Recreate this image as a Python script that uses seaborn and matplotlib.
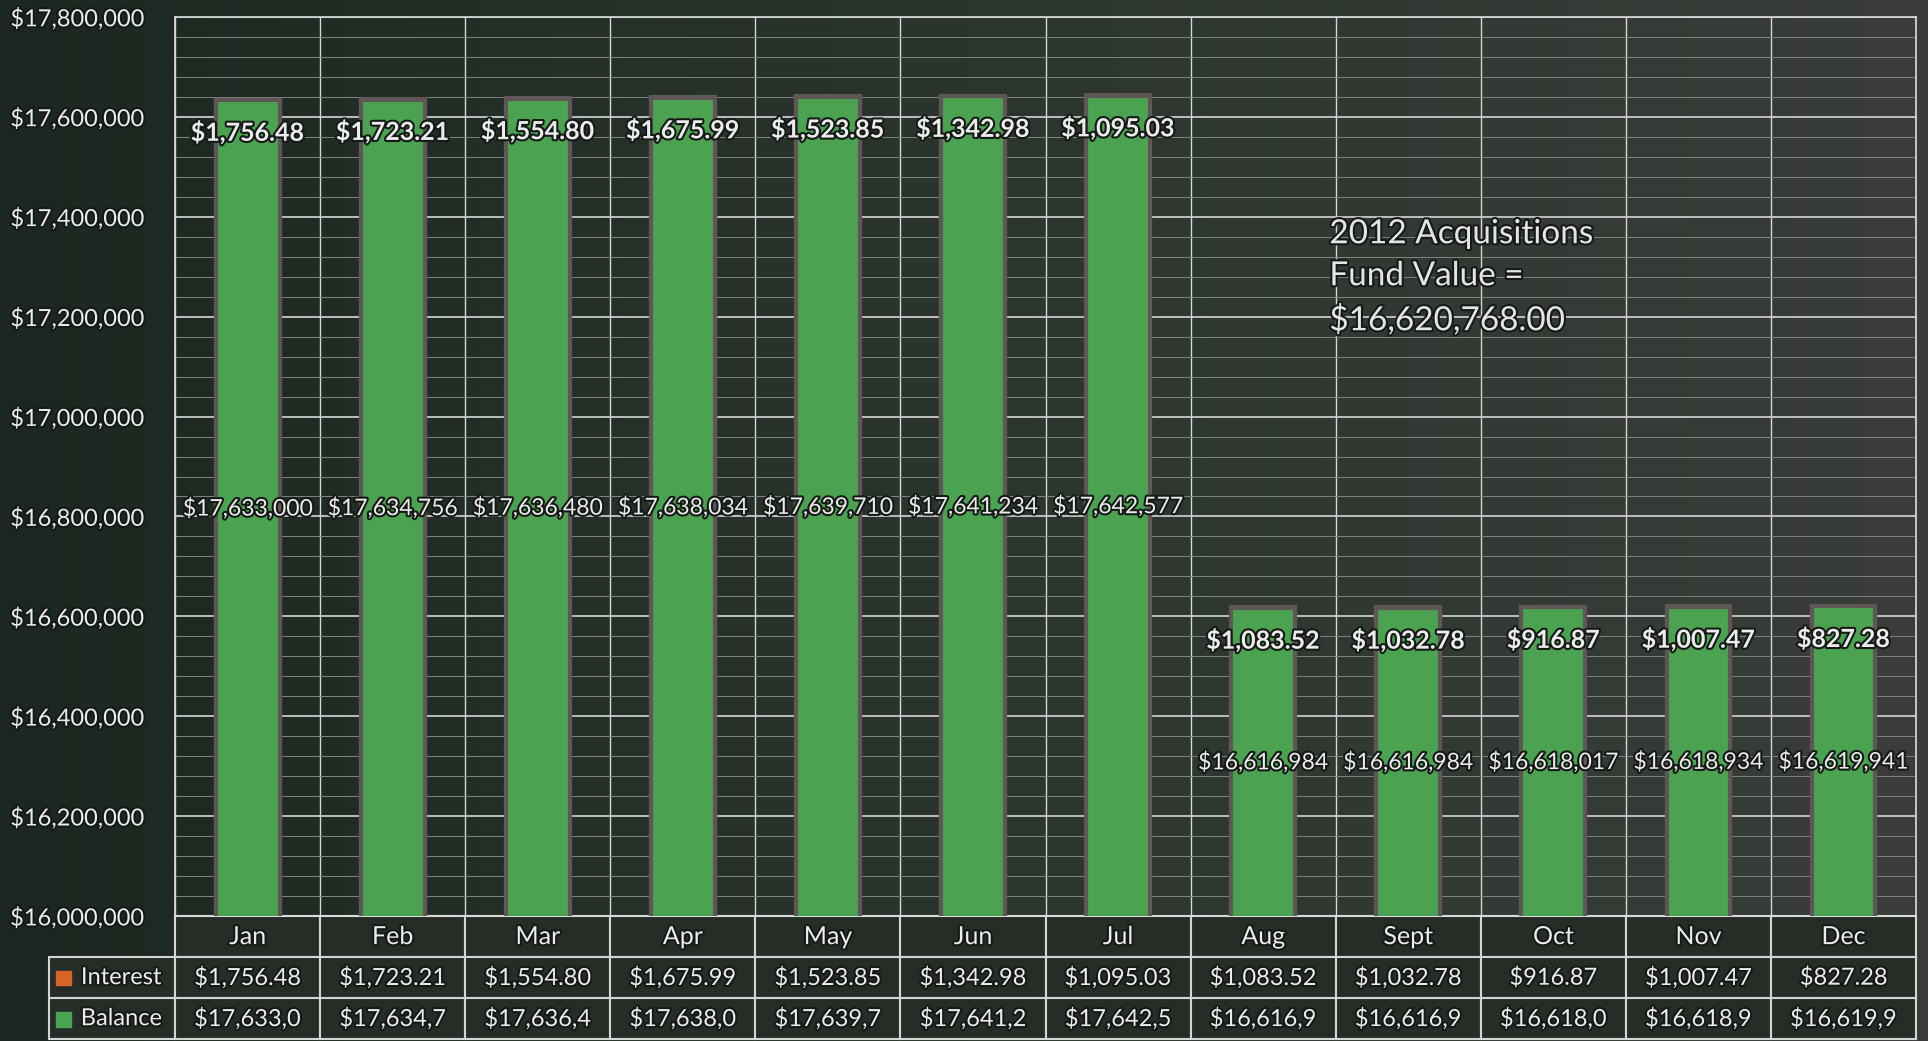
import matplotlib.pyplot as plt
import matplotlib.patheffects as pe
import seaborn as sns
import numpy as np

# chart values
months = ["Jan", "Feb", "Mar", "Apr", "May", "Jun", "Jul", "Aug", "Sept", "Oct", "Nov", "Dec"]
balance = [17633000, 17634756, 17636480, 17638034, 17639710, 17641234, 17642577,
           16616984, 16616984, 16618017, 16618934, 16619941]
interest = [1756.48, 1723.21, 1554.80, 1675.99, 1523.85, 1342.98, 1095.03,
            1083.52, 1032.78, 916.87, 1007.47, 827.28]
fund_note = "2012 Acquisitions\nFund Value =\n$16,620,768.00"

sns.set_theme(style="dark")
plt.rcParams['font.family'] = ['Lato', 'DejaVu Sans']

green = "#4ba351"
orange = "#d8642a"
txt = "#ececec"
halo = [pe.withStroke(linewidth=3, foreground="#161a17")]

fig = plt.figure(figsize=(19.28, 10.41), dpi=100)

# dark scanned-looking background
bg = fig.add_axes([0, 0, 1, 1], zorder=-5)
grad = np.linspace(0, 1, 256).reshape(1, -1)
bg.imshow(grad, aspect='auto', extent=[0, 1, 0, 1],
          cmap=sns.blend_palette(["#1b2720", "#2b352d", "#3a3d3a"], as_cmap=True))
bg.axis('off')

ax = fig.add_axes([0.0908, 0.120, 0.903, 0.8637])
ax.set_facecolor('none')

totals = [b + i for b, i in zip(balance, interest)]

# stacked bars: interest on top of balance
sns.barplot(x=months, y=totals, color=orange, width=0.44, saturation=1,
            edgecolor="#5f5656", linewidth=3, errorbar=None, ax=ax, zorder=3)
sns.barplot(x=months, y=balance, color=green, width=0.44, saturation=1,
            edgecolor="#5f5656", linewidth=3, errorbar=None, ax=ax, zorder=3)

ylo, yhi = 16000000, 17800000
ax.set_ylim(ylo, yhi)
ax.set_xlim(-0.5, len(months) - 0.5)

# grid: major every 200k, minor every 40k, vertical lines between months
ax.set_yticks(np.arange(ylo, yhi + 1, 200000))
ax.set_yticks(np.arange(ylo, yhi + 1, 40000), minor=True)
ax.set_xticks([])
ax.set_xticks(np.arange(len(months) + 1) - 0.5, minor=True)
ax.grid(which='major', axis='y', color="#c9c9c9", linewidth=1.3, zorder=0)
ax.grid(which='minor', axis='y', color="#7f857f", linewidth=0.7, zorder=0)
ax.grid(which='minor', axis='x', color="#d6d6d6", linewidth=1.0, zorder=0)
ax.set_axisbelow(True)
ax.tick_params(axis='y', which='both', length=0, pad=22, labelsize=17, labelcolor=txt)
ax.tick_params(axis='x', which='both', length=0)
ax.set_yticklabels([f"${v:,.0f}" for v in ax.get_yticks()])
for lab in ax.get_yticklabels():
    lab.set_path_effects(halo)
for s in ax.spines.values():
    s.set_color("#dcdcdc")
    s.set_linewidth(1.2)

# bar labels
for i, (b, it, t) in enumerate(zip(balance, interest, totals)):
    ax.annotate(f"${it:,.2f}", (i, t), xytext=(0, -33), textcoords='offset pixels',
                ha='center', va='center', fontsize=18, fontweight='bold', color=txt,
                path_effects=halo, zorder=5)
    ax.text(i, (ylo + b) / 2, f"${b:,.0f}", ha='center', va='center', fontsize=16.5,
            color=txt, path_effects=halo, zorder=5)

ax.text(0.663, 0.775, fund_note, transform=ax.transAxes, ha='left', va='top',
        fontsize=24, color="#e4e4e4", linespacing=1.5, path_effects=halo, zorder=5)

# data table under the bars
first_w = 126 / 1741
cell_text = [["Interest"] + [f"${v:,.2f}" for v in interest],
             ["Balance"] + [f"${v:,.0f}"[:9] for v in balance]]
tab = ax.table(cellText=cell_text, colLabels=[""] + months, cellLoc='center',
               colWidths=[first_w] + [1 / len(months)] * len(months),
               bbox=[-first_w, -0.137, 1 + first_w, 0.137])
tab.auto_set_font_size(False)
tab.set_fontsize(17)
for (r, c), cell in tab.get_celld().items():
    cell.set_edgecolor("#d4d4d4")
    cell.set_linewidth(1.5)
    cell.set_facecolor("#262d27")
    cell.get_text().set_color(txt)
    cell.get_text().set_path_effects(halo)
    if r == 0:
        cell.get_text().set_fontsize(18)
    if r == 0 and c == 0:
        cell.set_visible(False)
    if c == 0 and r > 0:
        cell.get_text().set_text("   " + cell.get_text().get_text())

# legend keys inside the row label cells
ax.scatter([-0.064, -0.064], [-0.069, -0.115], transform=ax.transAxes, marker='s', s=110,
           c=[orange, green], clip_on=False, zorder=6)

fig.savefig("out.png", dpi=100, facecolor=fig.get_facecolor())
